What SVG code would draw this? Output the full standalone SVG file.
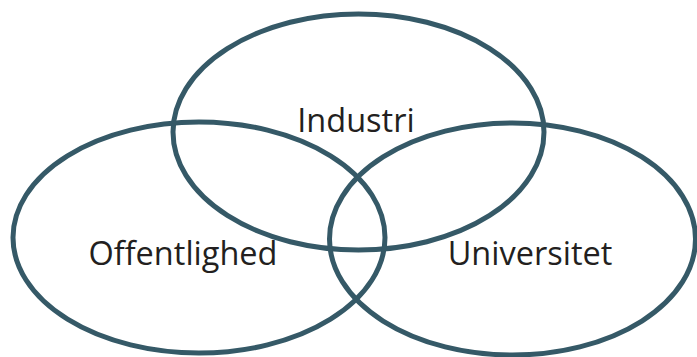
<svg xmlns="http://www.w3.org/2000/svg" width="697" height="357" viewBox="0 0 697 357">
<style>
.c{fill:none;stroke:#355967;stroke-width:5}
.t{font-family:"Open Sans","Noto Sans",sans-serif;font-size:32.5px;fill:#231f20;text-anchor:middle}
</style>
<rect width="697" height="357" fill="#fff"/>
<g id="industri"><ellipse class="c" cx="358.5" cy="132" rx="185.5" ry="118"/><text class="t" x="356" y="132">Industri</text></g>
<g id="offentlighed"><ellipse class="c" cx="199" cy="237.5" rx="186" ry="115.5"/><text class="t" x="183" y="265">Offentlighed</text></g>
<g id="universitet"><ellipse class="c" cx="512.5" cy="239" rx="183" ry="116"/><text class="t" x="530" y="265">Universitet</text></g>
<g id="connectors"/>
</svg>
